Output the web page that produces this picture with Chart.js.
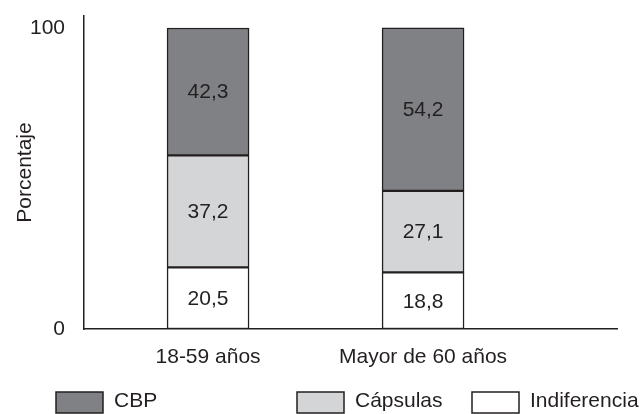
<!DOCTYPE html>
<html>
<head>
<meta charset="utf-8">
<script src="https://cdn.jsdelivr.net/npm/chart.js@4.4.1/dist/chart.umd.min.js"></script>
<style>
    body { margin: 0; background: #fff; }
    #wrap { width: 640px; height: 414px; position: relative; }
</style>
</head>
<body>
<div id="wrap"><canvas id="chart"></canvas></div>
<script>
const categories = ['18-59 años', 'Mayor de 60 años'];
const indiferencia = [20.5, 18.8];
const capsulas = [37.2, 27.1];
const cbp = [42.3, 54.2];
const yTicks = [0, 100];
const seriesNames = ['Indiferencia', 'Cápsulas', 'CBP'];
const seriesColors = ['#ffffff', '#d4d5d6', '#808184'];

const ink = '#231f20';
const fontFamily = '"Liberation Sans", Arial, Helvetica, sans-serif';
const fontSize = 21;

function toPoints(values) {
    return values.map((v, i) => ({ x: i + 1, y: v }));
}

// value labels inside each segment
const segmentLabels = {
    id: 'segmentLabels',
    afterDatasetsDraw(chart) {
        const ctx = chart.ctx;
        ctx.save();
        ctx.font = fontSize + 'px ' + fontFamily;
        ctx.fillStyle = ink;
        ctx.textAlign = 'center';
        ctx.textBaseline = 'middle';
        chart.data.datasets.forEach((ds, di) => {
            const meta = chart.getDatasetMeta(di);
            meta.data.forEach((bar, i) => {
                const p = bar.getProps(['x', 'y', 'base'], true);
                const txt = ds.data[i].y.toFixed(1).replace('.', ',');
                ctx.fillText(txt, p.x, (p.y + p.base) / 2 + 1);
            });
        });
        ctx.restore();
    }
};

// legend drawn by hand, items spread like the original
const spreadLegend = {
    id: 'spreadLegend',
    afterDraw(chart) {
        const ctx = chart.ctx;
        const boxX = [56, 297, 472];
        const order = chart.data.datasets.slice().reverse();
        ctx.save();
        ctx.font = fontSize + 'px ' + fontFamily;
        ctx.textBaseline = 'middle';
        ctx.lineWidth = 1.5;
        order.forEach((ds, i) => {
            ctx.fillStyle = ds.backgroundColor;
            ctx.fillRect(boxX[i], 392, 47, 21);
            ctx.strokeStyle = ink;
            ctx.strokeRect(boxX[i], 392, 47, 21);
            ctx.fillStyle = ink;
            ctx.fillText(ds.label, boxX[i] + 58, 401);
        });
        ctx.restore();
    }
};

function noOverhang(scale) {
    scale.paddingTop = 0;
    scale.paddingBottom = 0;
    scale.paddingLeft = 0;
    scale.paddingRight = 0;
}

const ctx = document.getElementById('chart').getContext('2d');

new Chart(ctx, {
    type: 'bar',
    data: {
        datasets: [
            { label: seriesNames[0], data: toPoints(indiferencia), backgroundColor: seriesColors[0] },
            { label: seriesNames[1], data: toPoints(capsulas), backgroundColor: seriesColors[1] },
            { label: seriesNames[2], data: toPoints(cbp), backgroundColor: seriesColors[2] }
        ].map(d => Object.assign(d, {
            borderColor: ink,
            borderWidth: 1.5,
            borderSkipped: false,
            barThickness: 82
        }))
    },
    options: {
        responsive: true,
        maintainAspectRatio: false,
        animation: false,
        layout: { padding: { top: 16, right: 23, left: 0, bottom: 0 } },
        plugins: {
            legend: { display: false },
            tooltip: { enabled: false }
        },
        scales: {
            x: {
                type: 'linear',
                stacked: true,
                offset: false,
                min: 0.423,
                max: 2.902,
                grid: { display: false },
                border: { display: true, color: ink, width: 1.5 },
                afterBuildTicks: scale => {
                    scale.ticks = categories.map((c, i) => ({ value: i + 1 }));
                },
                afterFit: scale => { scale.height = 85; noOverhang(scale); },
                ticks: {
                    padding: 8,
                    color: ink,
                    font: { family: fontFamily, size: fontSize },
                    callback: v => categories[v - 1]
                }
            },
            y: {
                stacked: true,
                min: 0,
                max: 104,
                grid: { display: false },
                border: { display: true, color: ink, width: 1.5 },
                afterBuildTicks: scale => {
                    scale.ticks = yTicks.map(v => ({ value: v }));
                },
                afterFit: scale => { scale.width = 84; noOverhang(scale); },
                ticks: {
                    padding: 11,
                    color: ink,
                    font: { family: fontFamily, size: fontSize }
                },
                title: {
                    display: true,
                    text: 'Porcentaje',
                    color: ink,
                    padding: { top: 13, bottom: 0 },
                    font: { family: fontFamily, size: fontSize }
                }
            }
        }
    },
    plugins: [segmentLabels, spreadLegend]
});
</script>
</body>
</html>
